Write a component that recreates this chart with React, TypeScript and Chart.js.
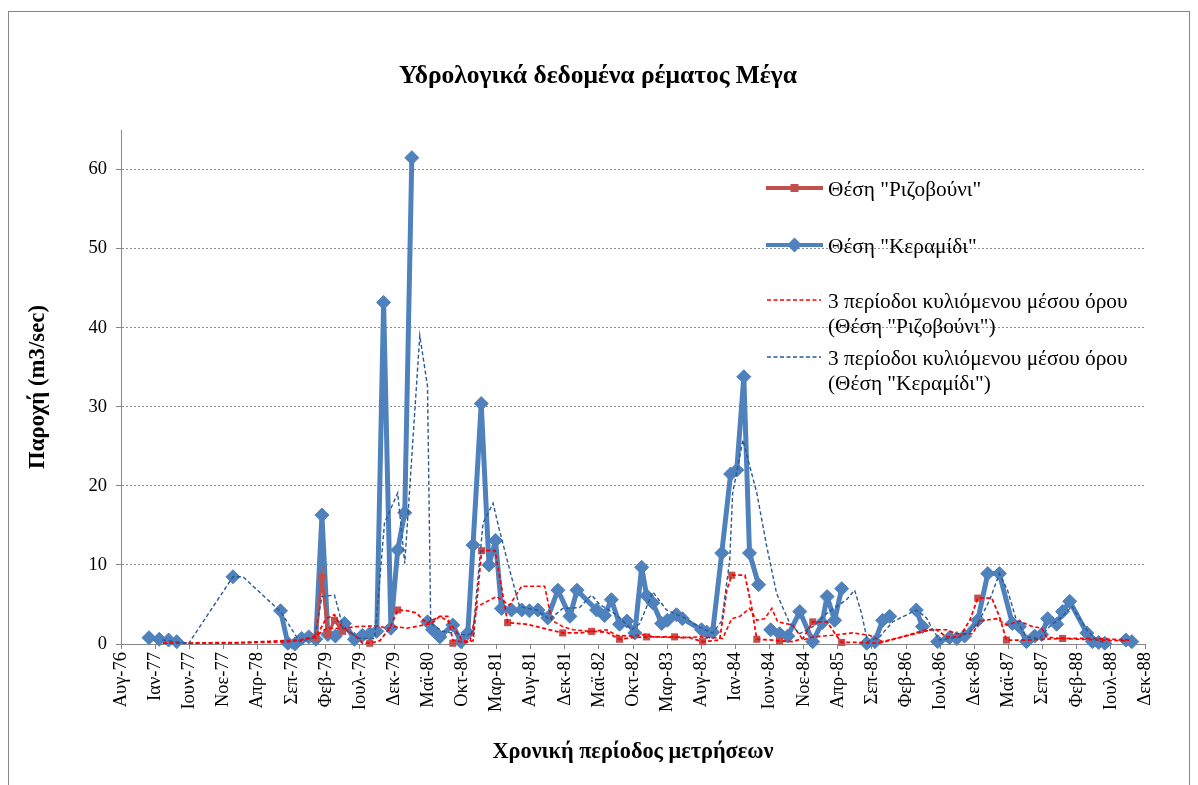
import React, { useEffect, useRef } from "react";
import { Chart, registerables } from "chart.js";

Chart.register(...registerables);

const SERIF = '"Liberation Serif", "Times New Roman", serif';

const TITLE = "Υδρολογικά δεδομένα ρέματος Μέγα";
const X_TITLE = "Χρονική περίοδος μετρήσεων";
const Y_TITLE = "Παροχή (m3/sec)";

const LEGEND_LABELS = [
  ['Θέση "Ριζοβούνι"'],
  ['Θέση "Κεραμίδι"'],
  ["3 περίοδοι κυλιόμενου μέσου όρου", '(Θέση "Ριζοβούνι")'],
  ["3 περίοδοι κυλιόμενου μέσου όρου", '(Θέση "Κεραμίδι")'],
];

const X_START = "1976-08-27";
const X_STEP_DAYS = 150;
const TICK_LABELS = [
  "Αυγ-76", "Ιαν-77", "Ιουν-77", "Νοε-77", "Απρ-78", "Σεπ-78", "Φεβ-79", "Ιουλ-79",
  "Δεκ-79", "Μαϊ-80", "Οκτ-80", "Μαρ-81", "Αυγ-81", "Δεκ-81", "Μαϊ-82", "Οκτ-82",
  "Μαρ-83", "Αυγ-83", "Ιαν-84", "Ιουν-84", "Νοε-84", "Απρ-85", "Σεπ-85", "Φεβ-86",
  "Ιουλ-86", "Δεκ-86", "Μαϊ-87", "Σεπ-87", "Φεβ-88", "Ιουλ-88", "Δεκ-88",
];
const Y_TICKS = [0, 10, 20, 30, 40, 50, 60];
const Y_MAX = 65;

// Θέση "Κεραμίδι" (null = gap)
const BLUE_DATES = [
  "1976-12-28", "1977-02-11", "1977-03-24", "1977-04-29", null,
  "1978-01-01", null,
  "1978-07-29", "1978-08-30", "1978-09-30", "1978-10-30", "1978-11-30", "1978-12-31", "1979-01-27",
  "1979-02-22", "1979-03-27", "1979-05-06", "1979-06-19", "1979-07-24", "1979-08-25", "1979-09-25",
  "1979-10-25", "1979-11-26", "1979-12-26", "1980-01-26", "1980-02-26", null,
  "1980-05-05", "1980-05-27", "1980-06-28", "1980-08-24", "1980-09-29", "1980-10-29", "1980-11-21",
  "1980-12-27", "1981-01-30", "1981-02-28", "1981-03-26", "1981-05-09", "1981-06-23", "1981-07-27",
  "1981-09-02", "1981-10-15", "1981-11-29", "1982-01-21", "1982-02-21", "1982-05-18", "1982-06-22",
  "1982-07-22", "1982-08-27", "1982-09-28", "1982-11-02", "1982-12-02", "1982-12-24", "1983-01-20",
  "1983-02-28", "1983-03-25", "1983-05-04", "1983-05-30", "1983-08-22", "1983-09-14", "1983-10-10",
  "1983-11-19", "1983-12-28", "1984-01-24", "1984-02-24", "1984-03-20", "1984-04-29", null,
  "1984-06-21", "1984-07-30", "1984-09-04", "1984-10-27", "1984-12-23", "1985-02-02", "1985-02-24",
  "1985-03-29", "1985-04-29", null,
  "1985-08-17", "1985-09-22", "1985-10-26", "1985-11-26", null,
  "1986-03-23", "1986-04-19", null,
  "1986-06-25", "1986-08-16", "1986-09-17", "1986-10-21", "1986-12-18", "1987-01-31", "1987-03-23",
  "1987-05-19", "1987-06-19", "1987-07-20", "1987-08-25", "1987-09-25", "1987-10-21", "1987-11-30",
  "1987-12-26", "1988-01-26", "1988-04-10", "1988-05-05", "1988-06-01", "1988-06-28", null,
  "1988-09-29", "1988-10-25",
];
const BLUE_VALUES = [
  0.8, 0.6, 0.5, 0.3, null,
  8.5, null,
  4.2, 0.1, 0.0, 0.7, 0.9, 0.6, 16.3,
  1.2, 1.0, 2.6, 0.6, 1.1, 1.3, 1.6,
  43.2, 2.0, 11.9, 16.6, 61.5, null,
  2.8, 1.8, 0.9, 2.4, 0.3, 1.4, 12.5,
  30.4, 10.0, 13.1, 4.5, 4.3, 4.3, 4.2,
  4.3, 3.3, 6.8, 3.5, 6.8, 4.3, 3.6,
  5.6, 2.5, 2.9, 1.4, 9.7, 6.1, 5.2,
  2.6, 3.0, 3.7, 3.2, 1.8, 1.5, 1.5,
  11.5, 21.5, 22.0, 33.8, 11.5, 7.5, null,
  1.8, 1.3, 1.0, 4.1, 0.3, 2.7, 6.0,
  3.0, 7.0, null,
  0.1, 0.3, 3.0, 3.5, null,
  4.3, 2.2, null,
  0.3, 0.8, 0.7, 1.0, 3.0, 8.9, 8.9,
  2.6, 2.2, 0.3, 1.0, 1.2, 3.2, 2.5,
  4.1, 5.4, 1.4, 0.3, 0.2, 0.1, null,
  0.5, 0.3,
];

// Θέση "Ριζοβούνι" (null = gap)
const RED_DATES = [
  "1978-12-31", "1979-01-27", "1979-02-22", "1979-03-23", "1979-04-28", null,
  "1979-08-25", null, "1979-12-26", null, "1980-08-24", null, "1980-12-29", null,
  "1981-04-22", null, "1981-12-20", null, "1982-04-26", null, "1982-08-27", null,
  "1982-12-24", null, "1983-04-26", null, "1983-08-27", null, "1984-01-02", null,
  "1984-04-21", null, "1984-07-30", null, "1984-12-23", null, "1985-04-29", null,
  "1986-12-18", null, "1987-04-23", null, "1987-12-26",
];
const RED_VALUES = [
  0.8, 8.4, 1.2, 3.0, 1.6, null,
  0.1, null, 4.3, null, 0.1, null, 11.8, null,
  2.7, null, 1.4, null, 1.6, null, 0.6, null,
  0.9, null, 0.9, null, 0.3, null, 8.7, null,
  0.6, null, 0.4, null, 2.8, null, 0.2, null,
  5.8, null, 0.5, null, 0.7,
];

// red dashed line through the Ριζοβούνι points
const RED_A_DATES = [
  "1977-02-28", "1977-12-18", "1978-09-08", "1978-12-31", "1979-02-14", "1979-03-23", "1979-04-15",
  "1979-05-06", "1979-06-24", "1979-07-24", "1979-08-25", "1979-10-08", "1979-11-21", "1979-12-26",
  "1980-02-09", "1980-03-18", "1980-05-01", "1980-06-28", "1980-08-02", "1980-08-24", "1980-10-16",
  "1980-11-21", "1980-12-29", "1981-02-26", "1981-04-22", "1981-07-14", "1981-09-24", "1981-12-20",
  "1982-03-04", "1982-04-26", "1982-07-01", "1982-08-27", "1982-10-23", "1982-12-24", "1983-04-26",
  "1983-07-01", "1983-08-27", "1983-11-10", "1983-12-11", "1984-01-02", "1984-02-29", "1984-03-29",
  "1984-04-21", "1984-06-30", "1984-07-30", "1984-09-26", "1984-11-10", "1984-12-23", "1985-02-24",
  "1985-04-07", "1985-04-29", "1985-07-03", "1985-09-13", "1985-10-26", "1986-05-07", "1986-06-20",
  "1986-08-03", "1986-09-30", "1986-11-13", "1986-12-18", "1987-02-18", "1987-03-23", "1987-04-23",
  "1987-07-20", "1987-12-26", "1988-05-05", "1988-10-16",
];
const RED_A_VALUES = [
  0.1, 0.1, 0.3, 0.8, 3.2, 3.7, 2.5,
  2.0, 1.0, 0.1, 0.1, 0.4, 2.0, 4.3,
  4.2, 3.9, 2.6, 3.5, 3.5, 0.5, 0.2,
  0.4, 11.8, 11.8, 2.7, 2.5, 2.0, 1.4,
  1.4, 1.6, 1.5, 0.6, 0.8, 0.9, 0.9,
  0.8, 0.3, 0.5, 6.8, 8.7, 8.7, 4.7,
  0.6, 0.5, 0.4, 0.3, 0.7, 2.8, 2.8,
  1.0, 0.2, 0.2, 0.1, 0.2, 1.8, 1.8,
  0.9, 0.9, 3.0, 5.8, 5.8, 3.5, 0.5,
  0.5, 0.7, 0.7, 0.5,
];

// 3-period moving average (Ριζοβούνι)
const RED_MA_DATES = [
  "1977-02-28", "1978-02-01", "1978-10-21", "1978-12-31", "1979-02-18", "1979-05-06", "1979-06-28",
  "1979-09-25", "1979-11-12", "1979-12-13", "1980-02-05", "1980-04-01", "1980-05-23", "1980-06-28",
  "1980-07-28", "1980-09-02", "1980-10-03", "1980-11-08", "1980-12-08", "1981-03-04", "1981-04-30",
  "1981-06-23", "1981-10-02", "1981-11-02", "1981-12-20", "1982-02-04", "1982-04-17", "1982-07-01",
  "1982-08-14", "1982-10-10", "1982-12-24", "1983-01-20", "1983-05-30", "1983-08-14", "1983-11-23",
  "1984-01-02", "1984-02-07", "1984-03-20", "1984-04-21", "1984-05-25", "1984-06-26", "1984-07-22",
  "1984-09-26", "1984-11-10", "1984-12-23", "1985-03-20", "1985-06-16", "1985-08-30", "1985-10-26",
  "1986-05-29", "1986-08-03", "1986-09-17", "1986-11-26", "1986-12-26", "1987-03-10", "1987-04-23",
  "1987-06-19", "1987-08-16", "1987-09-25", "1987-10-16", "1987-12-13", "1988-06-06", "1988-09-24",
];
const RED_MA_VALUES = [
  0.1, 0.2, 0.5, 1.0, 2.0, 2.0, 2.2,
  2.3, 2.0, 2.2, 2.0, 2.3, 2.6, 3.5,
  3.0, 1.9, 0.5, 0.3, 4.7, 6.0, 4.9,
  7.3, 7.3, 3.0, 2.2, 1.8, 1.6, 1.8,
  1.1, 1.0, 1.2, 0.9, 0.8, 0.9, 0.7,
  3.2, 3.5, 4.5, 3.0, 3.2, 4.5, 2.8,
  2.4, 0.5, 0.9, 1.1, 1.4, 1.1, 0.3,
  1.8, 1.8, 1.3, 1.3, 2.9, 3.2, 2.4,
  2.9, 2.2, 2.0, 0.9, 0.7, 0.5, 0.4,
];

// 3-period moving average (Κεραμίδι)
const BLUE_MA_DATES = [
  "1977-02-24", "1977-06-21", "1978-01-01", "1978-02-14", "1978-07-29", "1978-10-21", "1978-12-26",
  "1979-01-27", "1979-03-23", "1979-04-15", "1979-04-28", "1979-07-11", "1979-09-16", "1979-10-29",
  "1979-12-26", "1980-01-26", "1980-04-01", "1980-05-05", "1980-05-19", "1980-07-11", "1980-09-11",
  "1980-10-25", "1980-11-21", "1981-01-04", "1981-02-17", "1981-03-17", "1981-05-09", "1981-06-14",
  "1981-08-28", "1981-10-24", "1981-12-20", "1982-03-04", "1982-04-26", "1982-05-31", "1982-08-14",
  "1982-10-19", "1982-11-24", "1983-01-20", "1983-03-21", "1983-06-17", "1983-08-14", "1983-10-10",
  "1983-11-19", "1983-12-24", "1984-01-06", "1984-02-20", "1984-04-21", "1984-06-04", "1984-07-17",
  "1984-09-13", "1984-10-27", "1984-12-23", "1985-02-24", "1985-05-20", "1985-06-25", "1985-07-25",
  "1985-08-21", "1985-10-13", "1985-12-09", "1986-03-23", "1986-05-07", "1986-06-03", "1986-07-03",
  "1986-09-30", "1986-11-13", "1986-12-26", "1987-02-09", "1987-03-23", "1987-04-28", "1987-06-06",
  "1987-07-20", "1987-09-16", "1987-10-29", "1987-12-26", "1988-02-04", "1988-04-10", "1988-05-23",
  "1988-07-06",
];
const BLUE_MA_VALUES = [
  0.5, 0.1, 8.5, 8.5, 4.1, 0.3, 0.8,
  6.0, 6.2, 3.7, 2.0, 0.7, 0.7, 15.3,
  19.1, 10.2, 39.0, 32.6, 2.6, 1.6, 1.3,
  1.1, 1.5, 15.3, 17.8, 14.4, 8.5, 4.7,
  4.3, 3.1, 4.5, 4.6, 6.2, 5.0, 3.7,
  1.8, 2.6, 6.6, 4.3, 3.2, 2.1, 1.4,
  2.9, 10.6, 19.1, 25.8, 19.1, 12.3, 6.4,
  2.6, 1.3, 2.2, 3.9, 5.6, 6.8, 3.9,
  0.3, 0.9, 2.8, 4.3, 3.3, 1.8, 0.5,
  0.9, 1.5, 3.0, 5.6, 8.9, 6.8, 3.0,
  0.9, 0.7, 2.2, 3.5, 4.8, 1.8, 0.5,
  0.1,
];

const COLORS = {
  blue: "#4F81BD",
  red: "#C0504D",
  redDash: "#FF0000",
  blueDash: "#2A5A94",
  axis: "#868686",
  grid: "#8C8C8C",
};

function dayOf(s: string): number {
  const [y, m, d] = s.split("-").map(Number);
  return Date.UTC(y, m - 1, d) / 86400000;
}

function toPoints(dates: (string | null)[], values: (number | null)[]) {
  let last = dayOf(X_START);
  return dates.map((d, i) => {
    const v = values[i];
    if (d === null || v === null || v === undefined) return { x: last, y: null };
    last = dayOf(d);
    return { x: last, y: v };
  });
}

const X_MIN = dayOf(X_START);
const X_MAX = X_MIN + X_STEP_DAYS * (TICK_LABELS.length - 1);

const decorPlugin = {
  id: "decor",
  beforeDraw(chart: any) {
    const ctx = chart.ctx;
    ctx.save();
    ctx.fillStyle = "#ffffff";
    ctx.fillRect(0, 0, chart.width, chart.height);
    ctx.strokeStyle = COLORS.axis;
    ctx.lineWidth = 1;
    ctx.strokeRect(8.5, 11.5, 1181, 800);
    ctx.restore();
  },
  afterDraw(chart: any) {
    const ctx = chart.ctx;
    ctx.save();
    // title
    ctx.fillStyle = "#000";
    ctx.textAlign = "center";
    ctx.textBaseline = "middle";
    ctx.font = `bold 25.5px ${SERIF}`;
    ctx.fillText(TITLE, 598, 76);

    // legend
    const lx1 = 766, lx2 = 823, tx = 828;
    ctx.font = `21.3px ${SERIF}`;
    ctx.textAlign = "left";
    const drawText = (lines: string[], y: number) => {
      lines.forEach((t, i) => ctx.fillText(t, tx, y + i * 25.5));
    };
    // 1: Ριζοβούνι
    let y = 188;
    ctx.strokeStyle = COLORS.red;
    ctx.lineWidth = 4;
    ctx.setLineDash([]);
    ctx.beginPath(); ctx.moveTo(lx1, y); ctx.lineTo(lx2, y); ctx.stroke();
    ctx.fillStyle = COLORS.red;
    ctx.fillRect(790.5, y - 4, 8, 8);
    ctx.fillStyle = "#000";
    drawText(LEGEND_LABELS[0], y + 2);
    // 2: Κεραμίδι
    y = 245;
    ctx.strokeStyle = COLORS.blue;
    ctx.lineWidth = 4;
    ctx.beginPath(); ctx.moveTo(lx1, y); ctx.lineTo(lx2, y); ctx.stroke();
    ctx.fillStyle = COLORS.blue;
    ctx.beginPath();
    ctx.moveTo(794.5 - 7.5, y); ctx.lineTo(794.5, y - 7.5); ctx.lineTo(794.5 + 7.5, y); ctx.lineTo(794.5, y + 7.5);
    ctx.closePath(); ctx.fill();
    ctx.fillStyle = "#000";
    drawText(LEGEND_LABELS[1], y + 2);
    // 3: MA red
    y = 300;
    ctx.strokeStyle = COLORS.redDash;
    ctx.lineWidth = 1.5;
    ctx.setLineDash([4, 2.5]);
    ctx.beginPath(); ctx.moveTo(lx1 + 1, y); ctx.lineTo(lx2 - 2, y); ctx.stroke();
    ctx.setLineDash([]);
    drawText(LEGEND_LABELS[2], y + 2);
    // 4: MA blue
    y = 357;
    ctx.strokeStyle = COLORS.blueDash;
    ctx.setLineDash([4, 2.5]);
    ctx.beginPath(); ctx.moveTo(lx1 + 1, y); ctx.lineTo(lx2 - 2, y); ctx.stroke();
    ctx.setLineDash([]);
    drawText(LEGEND_LABELS[3], y + 2);
    ctx.restore();
  },
};

export default function App() {
  const ref = useRef<HTMLCanvasElement | null>(null);

  useEffect(() => {
    if (!ref.current) return;
    const chart = new Chart(ref.current, {
      type: "line",
      data: {
        datasets: [
          {
            label: "3 περίοδοι κυλιόμενου μέσου όρου (Θέση \"Κεραμίδι\")",
            data: toPoints(BLUE_MA_DATES, BLUE_MA_VALUES),
            borderColor: COLORS.blueDash,
            borderWidth: 1.4,
            borderDash: [4, 2.5],
            pointRadius: 0,
            order: 0,
            clip: false,
          },
          {
            label: "3 περίοδοι κυλιόμενου μέσου όρου (Θέση \"Ριζοβούνι\")",
            data: toPoints(RED_MA_DATES, RED_MA_VALUES),
            borderColor: COLORS.redDash,
            borderWidth: 1.6,
            borderDash: [4, 2.5],
            pointRadius: 0,
            order: 1,
            clip: false,
          },
          {
            label: "Ριζοβούνι (γραμμή)",
            data: toPoints(RED_A_DATES, RED_A_VALUES),
            borderColor: COLORS.redDash,
            borderWidth: 1.8,
            borderDash: [4, 2.5],
            pointRadius: 0,
            order: 2,
            clip: false,
          },
          {
            label: "Θέση \"Ριζοβούνι\"",
            data: toPoints(RED_DATES, RED_VALUES),
            borderColor: COLORS.red,
            backgroundColor: COLORS.red,
            borderWidth: 3,
            pointStyle: "rect",
            pointRadius: 5,
            pointBorderWidth: 0,
            pointBackgroundColor: COLORS.red,
            order: 3,
            clip: false,
          },
          {
            label: "Θέση \"Κεραμίδι\"",
            data: toPoints(BLUE_DATES, BLUE_VALUES),
            borderColor: COLORS.blue,
            backgroundColor: COLORS.blue,
            borderWidth: 5,
            borderJoinStyle: "round",
            borderCapStyle: "round",
            pointStyle: "rectRot",
            pointRadius: 7,
            pointBorderWidth: 1,
            pointBackgroundColor: COLORS.blue,
            pointBorderColor: COLORS.blue,
            order: 4,
            clip: false,
          },
        ] as any,
      },
      options: {
        responsive: false,
        animation: false,
        events: [],
        layout: { padding: { top: 130, right: 53, left: 0, bottom: 0 } },
        plugins: {
          legend: { display: false },
          title: { display: false },
          tooltip: { enabled: false },
        },
        elements: { line: { tension: 0 } },
        scales: {
          x: {
            type: "linear",
            min: X_MIN,
            max: X_MAX,
            afterBuildTicks: (s: any) => {
              s.ticks = TICK_LABELS.map((_, i) => ({ value: X_MIN + X_STEP_DAYS * i }));
            },
            afterFit: (s: any) => {
              s.height = 141;
            },
            ticks: {
              autoSkip: false,
              minRotation: 90,
              maxRotation: 90,
              padding: 3,
              color: "#000",
              font: { size: 18.5, family: SERIF },
              callback: (_v: any, i: number) => TICK_LABELS[i],
            },
            grid: {
              drawOnChartArea: false,
              drawTicks: true,
              tickLength: 5,
              tickColor: COLORS.axis,
              color: COLORS.axis,
            },
            border: { display: true, color: COLORS.axis, width: 1 },
            title: {
              display: true,
              text: X_TITLE,
              color: "#000",
              font: { size: 22.3, weight: "bold", family: SERIF },
              padding: { top: 0, bottom: 19.5 },
            },
          },
          y: {
            type: "linear",
            min: 0,
            max: Y_MAX,
            afterBuildTicks: (s: any) => {
              s.ticks = Y_TICKS.map((v) => ({ value: v }));
            },
            afterFit: (s: any) => {
              s.width = 121;
            },
            ticks: {
              padding: 9,
              color: "#000",
              font: { size: 18.5, family: SERIF },
              callback: (v: any) => String(v),
            },
            grid: {
              color: COLORS.grid,
              lineWidth: 1,
              drawTicks: true,
              tickLength: 5,
              tickColor: COLORS.axis,
            },
            border: { display: true, color: COLORS.axis, width: 1, dash: [2, 2] },
            title: {
              display: true,
              text: Y_TITLE,
              color: "#000",
              font: { size: 22.8, weight: "bold", family: SERIF },
              padding: { top: 24.5, bottom: 0 },
            },
          },
        },
      } as any,
      plugins: [decorPlugin],
    });
    return () => chart.destroy();
  }, []);

  return (
    <div style={{ position: "absolute", left: 0, top: 0, width: 1198, height: 785 }}>
      <canvas ref={ref} width={1198} height={785} />
    </div>
  );
}
